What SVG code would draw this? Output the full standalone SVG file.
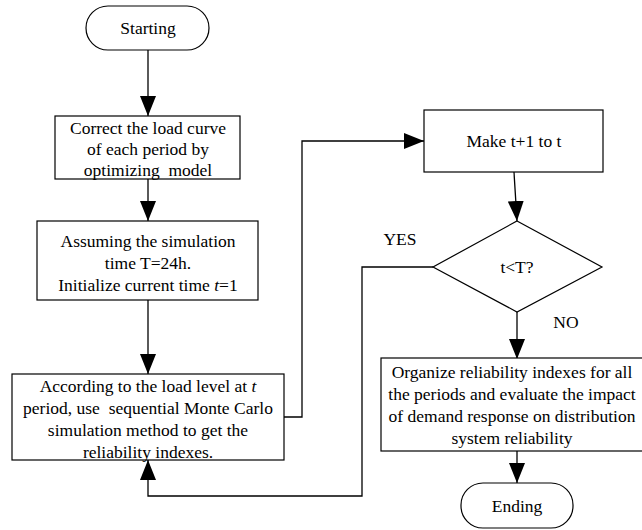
<svg xmlns="http://www.w3.org/2000/svg" width="642" height="530" viewBox="0 0 642 530">
<defs>
<style>
.box{fill:#fff;stroke:#000;stroke-width:1.2}
.ln{fill:none;stroke:#000;stroke-width:1.3}
.t{font-size:17.5px;fill:#000;text-anchor:middle;white-space:pre}
</style>
<marker id="ah" markerWidth="20" markerHeight="16" refX="20" refY="8" viewBox="0 0 20 16" orient="auto" markerUnits="userSpaceOnUse">
<path d="M0,0 L20,8 L0,16 Z" fill="#000"/>
</marker>
</defs>
<rect width="642" height="530" fill="#fff"/>
<g id="connectors">
<line class="ln" x1="148" y1="50" x2="148" y2="116" marker-end="url(#ah)"/>
<line class="ln" x1="148" y1="179" x2="148" y2="221" marker-end="url(#ah)"/>
<line class="ln" x1="148" y1="300" x2="148" y2="374" marker-end="url(#ah)"/>
<polyline class="ln" points="284,417 302,417 302,141 424,141" marker-end="url(#ah)"/>
<line class="ln" x1="514" y1="172" x2="517" y2="221" marker-end="url(#ah)"/>
<polyline class="ln" points="433,267 362,267 362,496 148,496 148,460" marker-end="url(#ah)"/>
<line class="ln" x1="517" y1="312" x2="517" y2="359" marker-end="url(#ah)"/>
<line class="ln" x1="517" y1="451" x2="517" y2="483" marker-end="url(#ah)"/>
</g>
<g font-family="'Liberation Serif', 'Times New Roman', 'DejaVu Serif', serif">
<g id="start">
<rect class="box" x="86" y="6" width="123" height="44" rx="22" ry="22"/>
<text class="t" x="148" y="34">Starting</text>
</g>
<g id="correct">
<rect class="box" x="55" y="116" width="185" height="63"/>
<text class="t" x="148" y="134">Correct the load curve</text>
<text class="t" x="148" y="155">of each period by</text>
<text class="t" x="148" y="176">optimizing  model</text>
</g>
<g id="assume">
<rect class="box" x="37" y="221" width="221" height="79"/>
<text class="t" x="148" y="247">Assuming the simulation</text>
<text class="t" x="148" y="269">time T=24h.</text>
<text class="t" x="148" y="291">Initialize current time <tspan font-style="italic">t</tspan>=1</text>
</g>
<g id="montecarlo">
<rect class="box" x="12" y="374" width="272" height="86"/>
<text class="t" x="148" y="392">According to the load level at <tspan font-style="italic">t</tspan></text>
<text class="t" x="148" y="414">period, use  sequential Monte Carlo</text>
<text class="t" x="148" y="436">simulation method to get the</text>
<text class="t" x="148" y="458">reliability indexes.</text>
</g>
<g id="make">
<rect class="box" x="424" y="110" width="179" height="62"/>
<text class="t" x="514" y="147">Make t+1 to t</text>
</g>
<g id="decision">
<polygon class="box" points="517,221 602,267 517,312 433,267"/>
<text class="t" x="517" y="273">t&lt;T?</text>
</g>
<g id="labels">
<text class="t" x="400" y="245">YES</text>
<text class="t" x="566" y="328">NO</text>
</g>
<g id="organize">
<rect class="box" x="381" y="358" width="266" height="93"/>
<text class="t" x="512" y="378">Organize reliability indexes for all</text>
<text class="t" x="512" y="400">the periods and evaluate the impact</text>
<text class="t" x="512" y="422">of demand response on distribution</text>
<text class="t" x="512" y="444">system reliability</text>
</g>
<g id="end">
<rect class="box" x="461" y="483" width="112" height="45" rx="22" ry="22"/>
<text class="t" x="517" y="512">Ending</text>
</g>
</g>
</svg>
